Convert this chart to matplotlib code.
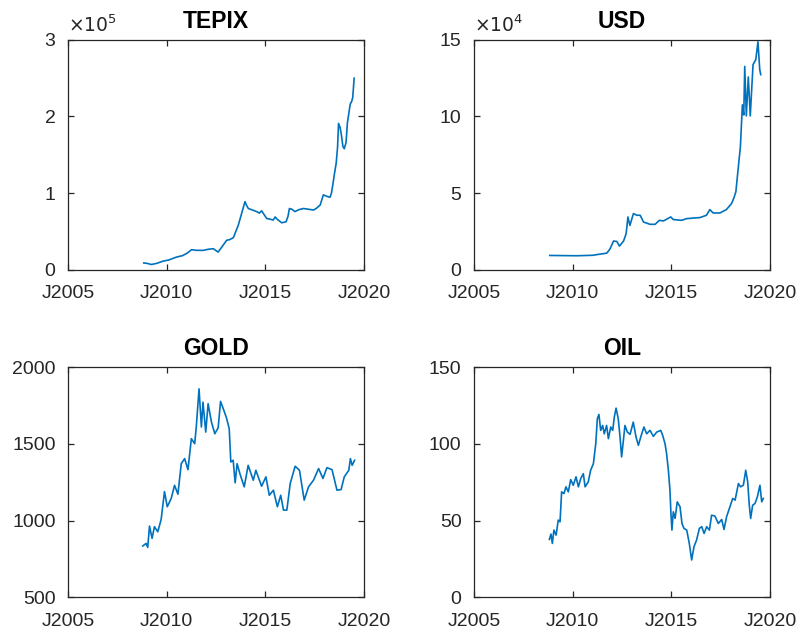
import numpy as np
import matplotlib
matplotlib.use("Agg")
import matplotlib.pyplot as plt

plt.rcParams["font.family"] = ["Liberation Sans", "DejaVu Sans"]

# data (decimal years)
tepix_t = [2008.84, 2009.0, 2009.23, 2009.5, 2009.82, 2010.1, 2010.5, 2010.8, 2011.05,
           2011.26, 2011.5, 2011.85, 2012.1, 2012.36, 2012.61, 2012.8, 2013.04, 2013.2,
           2013.38, 2013.63, 2013.8, 2013.97, 2014.05, 2014.14, 2014.35, 2014.56, 2014.7,
           2014.81, 2015.07, 2015.25, 2015.4, 2015.5, 2015.6, 2015.83, 2016.05, 2016.15,
           2016.22, 2016.35, 2016.5, 2016.7, 2016.93, 2017.2, 2017.44, 2017.6, 2017.78,
           2017.94, 2018.1, 2018.28, 2018.35, 2018.42, 2018.5, 2018.59, 2018.66, 2018.71,
           2018.79, 2018.86, 2018.93, 2019.0, 2019.09, 2019.16, 2019.3, 2019.38, 2019.43,
           2019.5]
tepix_v = [9000, 8500, 7000, 8500, 11400, 12800, 16700, 18500, 22000,
           26300, 25500, 25400, 26800, 27600, 23200, 30000, 38600, 39500,
           42000, 58300, 73700, 89000, 84000, 80000, 78000, 76000, 74000,
           77000, 67000, 66000, 65000, 69000, 66000, 61400, 62700, 70000,
           80000, 79000, 76000, 78500, 80000, 79000, 78000, 80500, 84600,
           97800, 96000, 94700, 100000, 111000, 125000, 139000, 160000, 191000,
           185500, 175000, 161000, 158000, 166000, 192000, 216000, 220000, 225000,
           250000]

usd_t = [2008.84, 2009.5, 2010.22, 2011.0, 2011.73, 2011.9, 2012.07, 2012.24, 2012.37,
         2012.58, 2012.71, 2012.8, 2012.9, 2013.08, 2013.25, 2013.42, 2013.59, 2013.92,
         2014.18, 2014.39, 2014.6, 2014.97, 2015.1, 2015.52, 2015.77, 2016.45, 2016.78,
         2016.95, 2017.12, 2017.46, 2017.79, 2018.05, 2018.17, 2018.27, 2018.38, 2018.5,
         2018.6, 2018.67, 2018.72, 2018.8, 2018.9, 2019.0, 2019.14, 2019.28, 2019.39,
         2019.48, 2019.53]
usd_v = [9400, 9300, 9200, 9500, 10900, 13800, 18800, 18500, 15500,
         18800, 23600, 34500, 29000, 36700, 35600, 35600, 31200, 29700,
         29700, 32300, 31900, 34500, 32800, 32300, 33400, 34100, 35600,
         39300, 37100, 37100, 39300, 43200, 46900, 50900, 65100, 80300,
         107600, 101000, 132700, 100400, 125800, 100400, 133800, 137100, 148700,
         130600, 127300]

gold_t = [2008.79, 2008.96, 2009.04, 2009.13, 2009.26, 2009.38, 2009.55, 2009.72, 2009.89,
          2010.03, 2010.23, 2010.4, 2010.57, 2010.74, 2010.91, 2011.08, 2011.25, 2011.42,
          2011.5, 2011.64, 2011.76, 2011.84, 2011.98, 2012.1, 2012.27, 2012.44, 2012.61,
          2012.73, 2012.9, 2013.03, 2013.17, 2013.25, 2013.37, 2013.47, 2013.57, 2013.71,
          2013.93, 2014.13, 2014.39, 2014.52, 2014.81, 2015.03, 2015.2, 2015.41, 2015.61,
          2015.78, 2015.92, 2016.09, 2016.26, 2016.51, 2016.73, 2016.97, 2017.19, 2017.44,
          2017.7, 2017.92, 2018.12, 2018.38, 2018.63, 2018.84, 2019.0, 2019.23, 2019.31,
          2019.4, 2019.52]
gold_v = [834, 851, 825, 964, 884, 960, 927, 1007, 1189,
          1090, 1144, 1230, 1172, 1371, 1404, 1332, 1534, 1501,
          1610, 1859, 1610, 1772, 1577, 1762, 1642, 1566, 1605,
          1777, 1718, 1670, 1599, 1382, 1393, 1246, 1371, 1306,
          1220, 1360, 1263, 1328, 1224, 1285, 1165, 1198, 1090,
          1165, 1068, 1068, 1241, 1354, 1328, 1133, 1220, 1263,
          1339, 1274, 1345, 1332, 1198, 1202, 1285, 1328, 1404,
          1360, 1393]

oil_t = [2008.82, 2008.9, 2008.97, 2009.05, 2009.16, 2009.27, 2009.36, 2009.44, 2009.56,
         2009.66, 2009.78, 2009.9, 2010.03, 2010.17, 2010.29, 2010.41, 2010.54, 2010.63,
         2010.79, 2010.91, 2011.05, 2011.17, 2011.25, 2011.33, 2011.42, 2011.52, 2011.6,
         2011.72, 2011.81, 2011.93, 2012.03, 2012.11, 2012.2, 2012.31, 2012.4, 2012.48,
         2012.57, 2012.65, 2012.77, 2012.91, 2013.07, 2013.21, 2013.33, 2013.45, 2013.61,
         2013.75, 2013.92, 2014.09, 2014.26, 2014.46, 2014.56, 2014.68, 2014.76, 2014.85,
         2014.93, 2014.98, 2015.03, 2015.1, 2015.19, 2015.3, 2015.44, 2015.54, 2015.64,
         2015.78, 2015.91, 2016.03, 2016.15, 2016.28, 2016.42, 2016.54, 2016.66, 2016.79,
         2016.93, 2017.04, 2017.21, 2017.38, 2017.55, 2017.67, 2017.8, 2017.97, 2018.11,
         2018.23, 2018.4, 2018.51, 2018.65, 2018.77, 2018.87, 2018.95, 2019.02, 2019.12,
         2019.24, 2019.36, 2019.49, 2019.58, 2019.66]
oil_v = [37.7, 41.2, 35.1, 43.8, 40.5, 50.3, 49.2, 68.7, 67.6,
         72.0, 68.7, 76.7, 73.0, 78.5, 72.0, 77.4, 80.6, 72.0,
         75.2, 82.8, 87.1, 100.1, 116.4, 119.2, 108.8, 112.0, 106.6,
         112.0, 103.4, 111.0, 108.8, 117.5, 123.3, 116.4, 104.5, 91.5,
         102.3, 112.0, 107.7, 106.2, 114.2, 104.5, 99.1, 104.5, 111.0,
         106.6, 108.8, 104.9, 107.7, 108.8, 105.6, 100.1, 93.6, 82.8,
         69.8, 54.6, 43.8, 55.7, 51.4, 62.2, 59.0, 48.1, 44.9,
         43.8, 35.1, 24.3, 33.0, 37.3, 44.9, 46.0, 41.6, 46.0,
         43.8, 53.5, 52.9, 48.1, 50.7, 44.2, 52.5, 59.0, 64.4,
         63.3, 74.1, 72.0, 73.0, 82.8, 75.2, 60.0, 51.4, 60.0,
         61.1, 65.5, 73.0, 62.2, 64.4]

year_ticks = [2005, 2010, 2015, 2020]
year_labels = ["J2005", "J2010", "J2015", "J2020"]

panels = [
    ("TEPIX", tepix_t, tepix_v, (0, 300000), [0, 100000, 200000, 300000], ["0", "1", "2", "3"], 5),
    ("USD", usd_t, usd_v, (0, 150000), [0, 50000, 100000, 150000], ["0", "5", "10", "15"], 4),
    ("GOLD", gold_t, gold_v, (500, 2000), [500, 1000, 1500, 2000], ["500", "1000", "1500", "2000"], None),
    ("OIL", oil_t, oil_v, (0, 150), [0, 50, 100, 150], ["0", "50", "100", "150"], None),
]

fig = plt.figure(figsize=(8, 6.32), dpi=100)
positions = [
    [0.085, 0.573, 0.37, 0.364],
    [0.5925, 0.573, 0.37, 0.364],
    [0.085, 0.055, 0.37, 0.364],
    [0.5925, 0.055, 0.37, 0.364],
]
dark = "#262626"

for pos, (name, t, v, ylim, yt, ylab, expo) in zip(positions, panels):
    ax = fig.add_axes(pos)
    ax.plot(t, v, color="#0072BD", linewidth=1.2)
    ax.set_xlim(2005, 2020)
    ax.set_ylim(*ylim)
    ax.set_xticks(year_ticks)
    ax.set_xticklabels(year_labels)
    ax.set_yticks(yt)
    ax.set_yticklabels(ylab)
    ax.tick_params(direction="in", top=True, right=True, length=4, width=0.9,
                   labelsize=14, colors=dark, labelcolor=dark)
    ax.tick_params(axis="x", pad=11)
    ax.tick_params(axis="y", pad=9)
    for s in ax.spines.values():
        s.set_color(dark)
        s.set_linewidth(0.9)
    ax.set_title(name, fontsize=16.5, fontweight="bold", pad=8.5)
    if expo is not None:
        ax.text(0.0, 1.015, r"$\times10^{%d}$" % expo, transform=ax.transAxes,
                fontsize=13.5, color=dark, ha="left", va="bottom",
                math_fontfamily="dejavusans")

fig.savefig("out.png", dpi=100)
